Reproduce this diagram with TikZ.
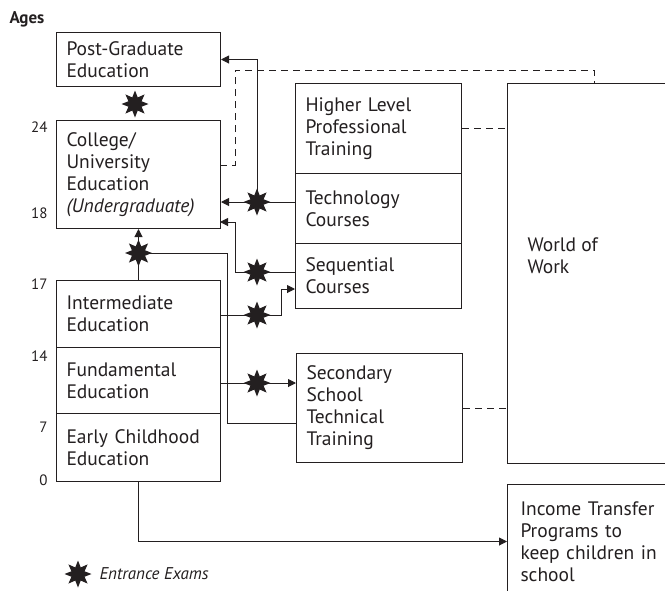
\documentclass[tikz,border=0pt]{standalone}
\usepackage{fontspec}
\setmainfont{PT Sans}
\usetikzlibrary{arrows.meta,shapes.geometric}
\definecolor{ink}{RGB}{35,31,32}
\begin{document}
\begin{tikzpicture}[x=1pt, y=-1pt, line width=1pt, color=ink, font=\fontsize{19.5}{22}\selectfont, >={Triangle[length=8pt,width=8pt]}]
	\tikzset{box/.style={draw, anchor=north west, inner xsep=10pt, inner ysep=0pt, align=left},
		lbox/.style={box, text width=144pt},
		rbox/.style={box, text width=146pt},
		exam/.style={star, star points=8, star point ratio=1.9, fill, draw=none, inner sep=0pt, minimum size=27pt},
		dsh/.style={dash pattern=on 7pt off 5pt},
		age/.style={anchor=east, inner sep=0pt, font=\fontsize{15}{16}\selectfont}}
	\useasboundingbox (0,0) rectangle (665,590);
	\clip (0,0) rectangle (665,590);
	% ages
	\node[anchor=west, inner sep=0pt, font=\bfseries\fontsize{17}{18}\selectfont] (ages) at (9,19) {Ages};
	\node[age] (a24) at (48,127) {24};
	\node[age] (a18) at (48,213) {18};
	\node[age] (a17) at (48,284) {17};
	\node[age] (a14) at (48,356) {14};
	\node[age] (a7) at (48,427) {7};
	\node[age] (a0) at (48,480) {0};
	% school boxes
	\node[lbox, minimum height=54pt] (pg) at (56,32) {Post-Graduate\\Education};
	\node[lbox, minimum height=108pt] (col) at (56,120) {College/\\University\\Education\\\textit{(Undergraduate)}};
	\node[lbox, minimum height=67pt] (int) at (56,280) {Intermediate\\Education};
	\node[lbox, minimum height=66pt] (fun) at (56,347) {Fundamental\\Education};
	\node[lbox, minimum height=68pt] (early) at (56,413) {Early Childhood\\Education};
	\node[rbox, minimum height=90pt] (hl) at (295,83) {Higher Level\\Professional\\Training};
	\node[rbox, minimum height=70pt] (tech) at (295,173) {Technology\\Courses};
	\node[rbox, minimum height=65pt] (seq) at (295,243) {Sequential\\Courses};
	\node[rbox, minimum height=109pt] (sec) at (296,353) {Secondary\\School\\Technical\\Training};
	% open boxes on the right
	\node[anchor=north west, inner sep=0pt, minimum width=190pt, minimum height=379pt] (wow) at (507,83) {};
	\draw (wow.north east) -- (wow.north west) -- (wow.south west) -- (wow.south east);
	\node[anchor=north west, inner sep=0pt, align=left] (wowtxt) at (527,237) {World of\\Work};
	\node[anchor=north west, inner xsep=13pt, inner ysep=0pt, text width=150pt, align=left, minimum height=114pt] (inc) at (507,484) {Income Transfer\\Programs to\\keep children in\\school};
	\draw (inc.north east) -- (inc.north west) -- (inc.south west);
	% exam points and bends
	\coordinate (xPG) at (135,104);
	\coordinate (xTech) at (257,202);
	\coordinate (xSeq) at (257,272);
	\coordinate (xInt) at (257,315);
	\coordinate (xFun) at (257,383);
	\coordinate (xCol) at (int.north |- 0,253);
	\coordinate (colIn) at (220,222);
	\coordinate (seqBend) at (235,222);
	\coordinate (intBend) at (281,315);
	\coordinate (seqIn) at (295,289);
	\coordinate (secOut) at (296,423);
	\coordinate (secBend) at (227,253);
	\coordinate (colOut) at (220,165);
	\coordinate (dashTop) at (235,70);
	\coordinate (wowIn) at (594,83);
	% paths
	\draw[->] (tech.west |- xTech) -- (col.east |- xTech);
	\draw[->] (xTech) |- (pg.east);
	\draw[->] (seq.west |- xSeq) -| (seqBend) -- (colIn);
	\draw[->] (int.east |- xInt) -- (intBend) |- (seqIn);
	\draw[->] (fun.east |- xFun) -- (sec.west |- xFun);
	\draw (secOut) -| (secBend) -- (xCol);
	\draw[->] (int.north) -- (col.south);
	\draw[->] (early.south) |- (inc.west);
	\draw[dsh] (colOut) -| (dashTop) -| (wowIn);
	\draw[dsh] (hl.east) -- (hl.east -| wow.west);
	\draw[dsh] (sec.east) -- (sec.east -| wow.west);
	% entrance exams
	\foreach \p in {PG,Tech,Seq,Int,Fun,Col}
		\node[exam] (s\p) at (x\p) {};
	\node[exam] (key) at (78,574) {};
	\node[anchor=west, inner sep=0pt, font=\itshape\fontsize{17}{20}\selectfont] (keytxt) at (99,574) {Entrance Exams};
\end{tikzpicture}
\end{document}
